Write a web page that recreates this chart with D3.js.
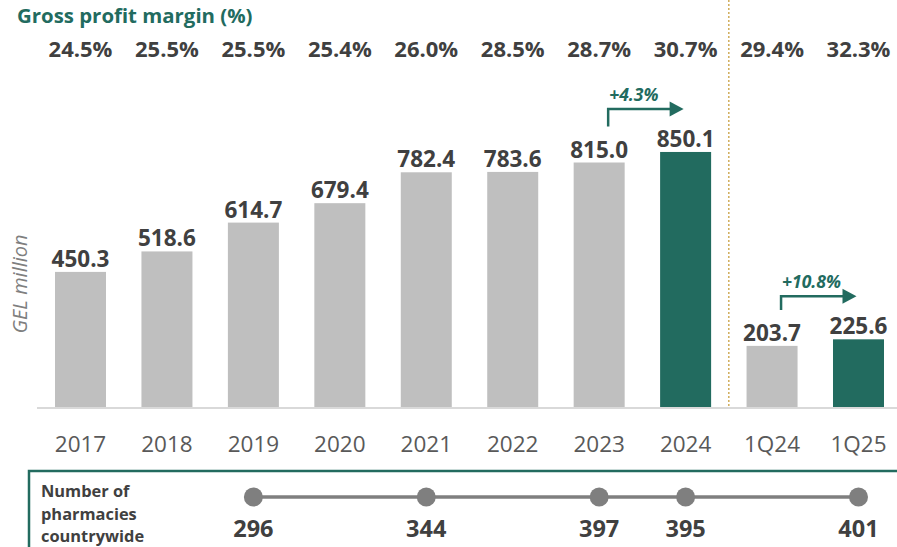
<!DOCTYPE html>
<html>
<head>
<meta charset="utf-8">
<script src="https://d3js.org/d3.v7.min.js"></script>
<style>
  body { margin: 0; background: #fff; }
  svg text { font-family: "Open Sans", "Noto Sans", sans-serif; }
</style>
</head>
<body>
<div class="chart"></div>
<script>
// data
var categories = ["2017","2018","2019","2020","2021","2022","2023","2024","1Q24","1Q25"];
var revenue = [450.3, 518.6, 614.7, 679.4, 782.4, 783.6, 815.0, 850.1, 203.7, 225.6];
var margins = ["24.5%","25.5%","25.5%","25.4%","26.0%","28.5%","28.7%","30.7%","29.4%","32.3%"];
var highlight = ["2024","1Q25"];
var growth = [
  {from: "2023", to: "2024", label: "+4.3%"},
  {from: "1Q24", to: "1Q25", label: "+10.8%"}
];
var pharmCats = ["2019","2021","2023","2024","1Q25"];
var pharmValues = [296, 344, 397, 395, 401];

var w = 897, h = 547;
var base = 407;
var green = "#226b5f", grey = "#bfbfbf", dark = "#404040";

var svg = d3.select("div.chart").append("svg")
  .attr("width", w).attr("height", h);

var x = d3.scaleBand().domain(categories).range([55, 884])
  .paddingInner(0.41).paddingOuter(0);
var y = d3.scaleLinear().domain([0, 1000]).range([base, base - 300]);
var cx = function(c){ return x(c) + x.bandwidth() / 2; };

// title
svg.append("text").attr("x", 17).attr("y", 23)
  .attr("font-size", 20.4).attr("font-weight", 700).attr("fill", green)
  .text("Gross profit margin (%)");

// margin row
svg.selectAll("text.margin").data(margins).enter().append("text")
  .attr("class", "margin")
  .attr("x", function(d, i){ return cx(categories[i]); })
  .attr("y", 56.5)
  .attr("text-anchor", "middle")
  .attr("font-size", 22).attr("font-weight", 700).attr("fill", dark)
  .text(function(d){ return d; });

// dotted separator between annual and quarterly
var sepX = (x("2024") + x.bandwidth() + x("1Q24")) / 2;
svg.append("line")
  .attr("x1", sepX).attr("x2", sepX).attr("y1", 0).attr("y2", base)
  .attr("stroke", "#c9a040").attr("stroke-width", 1.3)
  .attr("stroke-dasharray", "2,2");

// bars
svg.selectAll("rect.bar").data(revenue).enter().append("rect")
  .attr("class", "bar")
  .attr("x", function(d, i){ return x(categories[i]); })
  .attr("y", function(d){ return y(d); })
  .attr("width", x.bandwidth())
  .attr("height", function(d){ return base - y(d); })
  .attr("fill", function(d, i){ return highlight.indexOf(categories[i]) >= 0 ? green : grey; });

// value labels
svg.selectAll("text.val").data(revenue).enter().append("text")
  .attr("class", "val")
  .attr("x", function(d, i){ return cx(categories[i]); })
  .attr("y", function(d){ return y(d) - 5; })
  .attr("text-anchor", "middle")
  .attr("font-size", 22.5).attr("font-weight", 700).attr("fill", dark)
  .text(function(d){ return d.toFixed(1); });

// baseline + category axis
svg.append("line").attr("x1", 37).attr("x2", w).attr("y1", base + 1).attr("y2", base + 1)
  .attr("stroke", "#d9d9d9").attr("stroke-width", 2);

var xAxis = d3.axisBottom(x).tickSize(0).tickPadding(0);
var gx = svg.append("g").attr("transform", "translate(0," + base + ")").call(xAxis);
gx.select(".domain").remove();
gx.selectAll("text")
  .attr("y", 45).attr("dy", null)
  .attr("font-size", 22.5).attr("fill", "#595959")
  .style("font-family", "'Open Sans', sans-serif");

// y label
svg.append("text")
  .attr("transform", "translate(27,284) rotate(-90)")
  .attr("text-anchor", "middle")
  .attr("font-size", 20).attr("font-style", "italic").attr("fill", "#7f7f7f")
  .text("GEL million");

// growth arrows
var valOf = function(c){ return revenue[categories.indexOf(c)]; };
growth.forEach(function(g){
  var x0 = cx(g.from) + 9;
  var x1 = cx(g.to) - 2;
  var yTop = y(valOf(g.to)) - 43;
  var yBot = y(valOf(g.from)) - 36;
  svg.append("path")
    .attr("d", "M" + x0 + "," + yBot + "V" + yTop + "H" + (x1 - 13))
    .attr("fill", "none").attr("stroke", green).attr("stroke-width", 2.5);
  svg.append("path")
    .attr("d", "M" + (x1 - 14) + "," + (yTop - 7.5) + "L" + x1 + "," + yTop + "L" + (x1 - 14) + "," + (yTop + 7.5) + "Z")
    .attr("fill", green);
  svg.append("text")
    .attr("x", x0 + 1).attr("y", yTop - 8)
    .attr("font-size", 17.5).attr("font-weight", 700).attr("font-style", "italic")
    .attr("fill", green)
    .text(g.label);
});

// pharmacies box
svg.append("path")
  .attr("d", "M29," + (h + 5) + "V471H" + (w + 5))
  .attr("fill", "none").attr("stroke", green).attr("stroke-width", 2.5);

svg.selectAll("text.ph-label").data(["Number of", "pharmacies", "countrywide"]).enter()
  .append("text").attr("class", "ph-label")
  .attr("x", 41).attr("y", function(d, i){ return 497 + i * 22.5; })
  .attr("font-size", 16.4).attr("font-weight", 700).attr("fill", dark)
  .text(function(d){ return d; });

var pY = 497;
svg.append("line")
  .attr("x1", cx(pharmCats[0])).attr("x2", cx(pharmCats[pharmCats.length - 1]))
  .attr("y1", pY).attr("y2", pY)
  .attr("stroke", "#7f7f7f").attr("stroke-width", 3.5);

svg.selectAll("circle.ph").data(pharmValues).enter().append("circle")
  .attr("class", "ph")
  .attr("cx", function(d, i){ return cx(pharmCats[i]); })
  .attr("cy", pY).attr("r", 9.5).attr("fill", "#7f7f7f");

svg.selectAll("text.ph").data(pharmValues).enter().append("text")
  .attr("class", "ph")
  .attr("x", function(d, i){ return cx(pharmCats[i]); })
  .attr("y", 537)
  .attr("text-anchor", "middle")
  .attr("font-size", 23.5).attr("font-weight", 700).attr("fill", dark)
  .text(function(d){ return d; });
</script>
</body>
</html>
